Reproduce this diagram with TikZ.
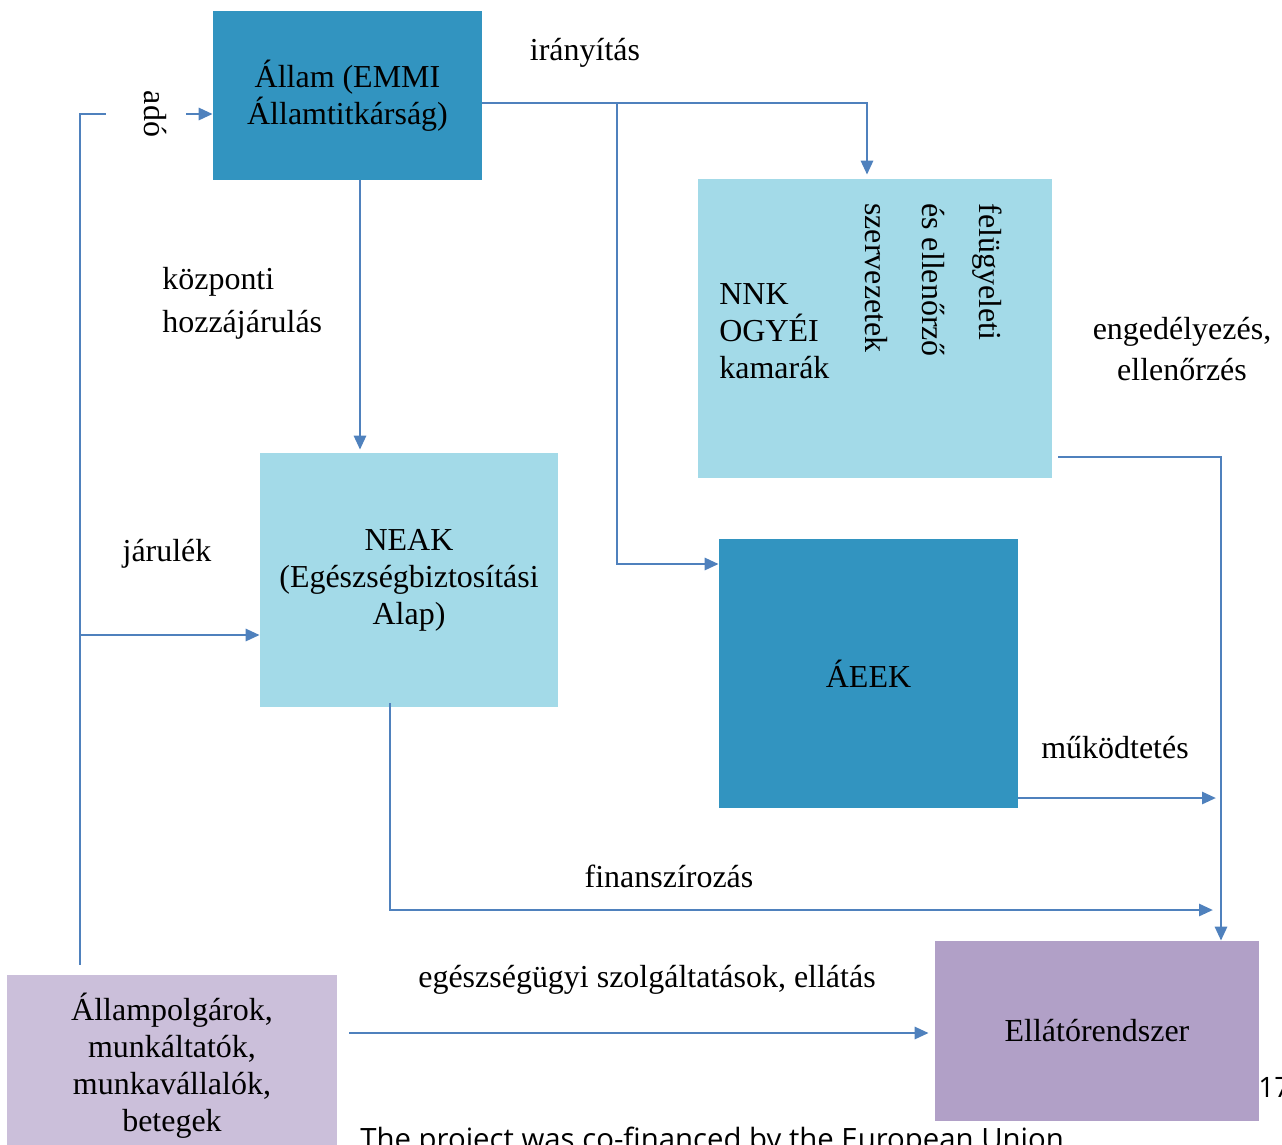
\documentclass[tikz,border=0pt]{standalone}
\usepackage{fontspec}
\setmainfont{Liberation Serif}
\newfontfamily\footfont{Open Sans}
\usepackage{tikz}
\usetikzlibrary{arrows.meta, calc, positioning}

\definecolor{darkbox}{RGB}{50,148,192}
\definecolor{lightbox}{RGB}{163,218,232}
\definecolor{lilacA}{RGB}{203,191,218}
\definecolor{lilacB}{RGB}{177,160,199}
\definecolor{flowcol}{RGB}{79,129,189}

\tikzset{
  box/.style={inner sep=0pt, align=center, font=\fontsize{18.2}{21}\selectfont},
  darkbx/.style={box, fill=darkbox},
  lightbx/.style={box, fill=lightbox},
  lbl/.style={inner sep=0pt, align=center, font=\fontsize{18.2}{21}\selectfont},
  conn/.style={draw=flowcol, line width=1.6pt},
  flow/.style={conn, -{Triangle[length=0.28cm, width=0.24cm]}}
}

\begin{document}
\begin{tikzpicture}[x=0.02cm, y=-0.02cm]
\useasboundingbox (0,0) rectangle (1282,1144);

% boxes
\node[darkbx, minimum width=5.38cm, minimum height=3.38cm] (allam) at (347.5,95.5) {Állam (EMMI\\Államtitkárság)};
\node[lightbx, minimum width=7.08cm, minimum height=5.98cm] (nnk) at (875,328.5) {};
\node[lightbx, minimum width=5.96cm, minimum height=5.08cm] (neak) at (409,580) {NEAK\\(Egészségbiztosítási\\Alap)};
\node[darkbx, minimum width=5.98cm, minimum height=5.38cm] (aeek) at (868.5,673.5) {ÁEEK};
\node[box, fill=lilacA, minimum width=6.6cm, minimum height=3.62cm] (polg) at (172,1065.5) {Állampolgárok,\\munkáltatók,\\munkavállalók,\\betegek};
\node[box, fill=lilacB, minimum width=6.48cm, minimum height=3.6cm] (ellato) at (1097,1031) {Ellátórendszer};

% text in NNK box
\node[lbl, align=left, anchor=west] (nnktxt) at (719,331) {NNK\\OGYÉI\\kamarák};
\node[lbl, align=left, rotate=-90, anchor=west, font=\fontsize{18.2}{32.4}\selectfont] (felug) at (934,203) {felügyeleti\\és ellenőrző\\szervezetek};

% labels
\node[lbl] (lirany) at (585,53) {irányítás};
\node[lbl, rotate=-90] (lado) at (155,114) {adó};
\node[lbl, align=left, anchor=west, font=\fontsize{18.2}{24.5}\selectfont] (lkozp) at (162,303) {központi\\hozzájárulás};
\node[lbl, font=\fontsize{18.2}{22.8}\selectfont] (lenged) at (1182,349) {engedélyezés,\\ellenőrzés};
\node[lbl] (ljarul) at (167,554) {járulék};
\node[lbl] (lmukod) at (1115,748) {működtetés};
\node[lbl] (lfinan) at (669,876) {finanszírozás};
\node[lbl] (leg) at (647,980) {egészségügyi szolgáltatások, ellátás};

% footer
\node[anchor=base west, inner sep=0pt, font=\footfont\fontsize{16.7}{19}\selectfont] (foot) at (360,1149) {The project was co-financed by the European Union};
\node[anchor=base west, inner sep=0pt, font=\footfont\fontsize{16}{19}\selectfont] (pnum) at (1258,1097) {17};

% connectors
\draw[flow] (allam.east |- 0,103) -| ([xshift=-0.16cm, yshift=0.08cm]nnk.north);
\draw[flow] (617,103) |- (aeek.west |- 0,564);
\draw[flow] (allam.south -| 360,0) -- ([yshift=0.06cm]neak.north -| 360,0);
\draw[conn] ([yshift=0.2cm]polg.north -| 80,0) |- (106,114);
\draw[flow] (186,114) -- (allam.west |- 0,114);
\draw[flow] (80,635) -- (neak.west |- 0,635);
\draw[flow] ([yshift=0.08cm]neak.south -| 390,0) |- (1213,910);
\draw[flow] ([xshift=0.12cm]nnk.east |- 0,457) -| (ellato.north -| 1221,0);
\draw[flow] (aeek.east |- 0,798) -- (1216,798);
\draw[flow] ([xshift=0.24cm]polg.east |- 0,1033) -- ([xshift=-0.12cm]ellato.west |- 0,1033);
\end{tikzpicture}
\end{document}
